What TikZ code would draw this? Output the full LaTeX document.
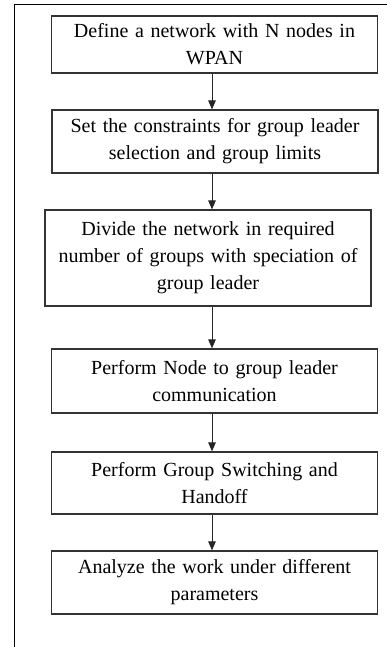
\documentclass[tikz,border=0pt]{standalone}
\usepackage{fontspec}
\setmainfont{Liberation Serif}
\usetikzlibrary{arrows.meta}
\tikzset{
	stepbox/.style={draw=black!80, line width=1.2pt, rectangle, inner xsep=3pt, inner ysep=0pt,
		text width=320pt, align=center, font=\fontsize{20}{27}\selectfont},
	flowarrow/.style={draw=black!85, line width=1pt, -{Triangle[width=7.5pt,length=9pt]}}
}

\begin{document}
\begin{tikzpicture}[x=1pt, y=-1pt]
				\useasboundingbox (0,0) rectangle (387,647);
				\draw[line width=1pt] (14,647) -- (14,5) -- (387,5);
				
				\coordinate (ax) at (212,0);
				
				\node[stepbox, minimum height=57pt] (define) at (214.5,44.5) {Define a network with N nodes in\\WPAN};
				\node[stepbox, minimum height=63pt] (constr) at (215,141.5) {Set the constraints for group leader\\selection and group limits};
				\node[stepbox, minimum height=96pt] (divide) at (208,258) {Divide the network in required\\number of groups with speciation of\\group leader};
				\node[stepbox, minimum height=64pt] (comm) at (214.5,381) {Perform Node to group leader\\communication};
				\node[stepbox, minimum height=62pt] (switch) at (214.5,483) {Perform Group Switching and\\Handoff};
				\node[stepbox, minimum height=63pt] (analyze) at (214.5,582.5) {Analyze the work under different\\parameters};
				
				\draw[flowarrow] (define.south -| ax) -- (constr.north -| ax);
				\draw[flowarrow] (constr.south -| ax) -- (divide.north -| ax);
				\draw[flowarrow] (divide.south -| ax) -- (comm.north -| ax);
				\draw[flowarrow] (comm.south -| ax) -- (switch.north -| ax);
				\draw[flowarrow] (switch.south -| ax) -- (analyze.north -| ax);
			\end{tikzpicture}
\end{document}
